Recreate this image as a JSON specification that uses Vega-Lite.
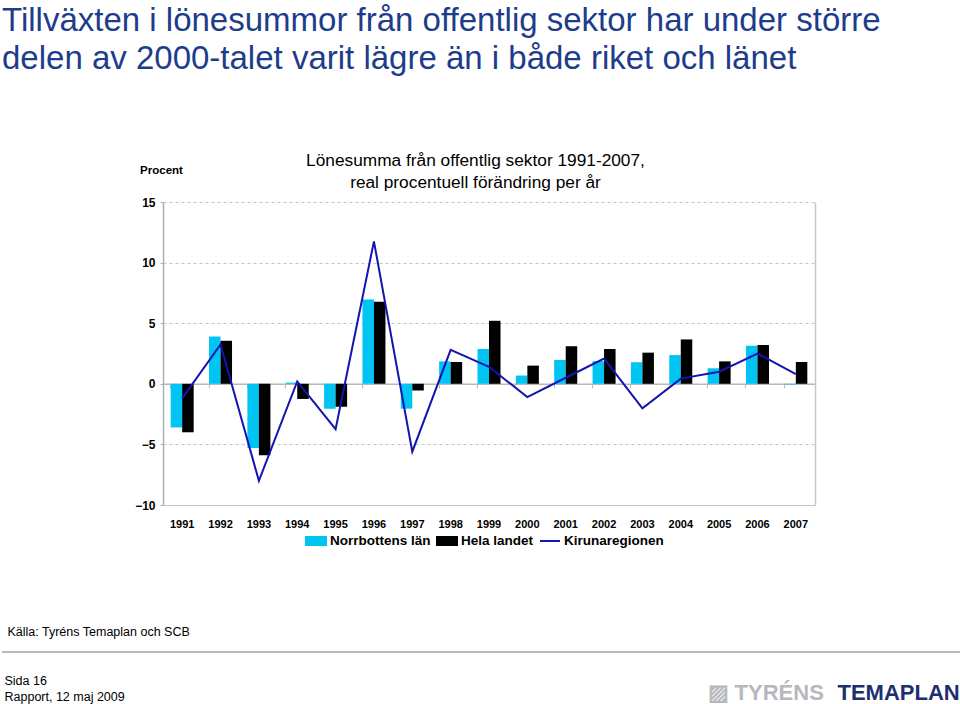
{
  "$schema": "https://vega.github.io/schema/vega-lite/v6.json",
  "width": 652,
  "height": 303,
  "autosize": {"type": "none"},
  "padding": {"left": 163, "top": 202, "right": 145, "bottom": 199},
  "background": "white",
  "config": {"view": {"stroke": null}, "font": "Liberation Sans"},
  "title": {
    "text": ["Tillväxten i lönesummor från offentlig sektor har under större", "delen av 2000-talet varit lägre än i både riket och länet"],
    "subtitle": "────────────────────────────────────────────────────────────────────",
    "anchor": "start",
    "frame": "group",
    "orient": "top",
    "offset": 0,
    "dx": -161,
    "dy": 514,
    "font": "Liberation Sans",
    "fontSize": 33,
    "fontWeight": "normal",
    "color": "#1e3c8c",
    "lineHeight": 38,
    "subtitleFont": "DejaVu Sans Mono",
    "subtitleFontSize": 24,
    "subtitleColor": "#b8b8b8",
    "subtitlePadding": 565
  },
  "data": {
    "values": [
      {"year": 1991, "series": "Norrbottens län", "value": -3.6},
      {"year": 1992, "series": "Norrbottens län", "value": 3.9},
      {"year": 1993, "series": "Norrbottens län", "value": -5.3},
      {"year": 1994, "series": "Norrbottens län", "value": 0.1},
      {"year": 1995, "series": "Norrbottens län", "value": -2.05},
      {"year": 1996, "series": "Norrbottens län", "value": 6.95},
      {"year": 1997, "series": "Norrbottens län", "value": -2.05},
      {"year": 1998, "series": "Norrbottens län", "value": 1.85},
      {"year": 1999, "series": "Norrbottens län", "value": 2.87},
      {"year": 2000, "series": "Norrbottens län", "value": 0.68},
      {"year": 2001, "series": "Norrbottens län", "value": 1.97},
      {"year": 2002, "series": "Norrbottens län", "value": 1.87},
      {"year": 2003, "series": "Norrbottens län", "value": 1.78},
      {"year": 2004, "series": "Norrbottens län", "value": 2.37},
      {"year": 2005, "series": "Norrbottens län", "value": 1.28},
      {"year": 2006, "series": "Norrbottens län", "value": 3.14},
      {"year": 2007, "series": "Norrbottens län", "value": -0.05},
      {"year": 1991, "series": "Hela landet", "value": -4.0},
      {"year": 1992, "series": "Hela landet", "value": 3.55},
      {"year": 1993, "series": "Hela landet", "value": -5.9},
      {"year": 1994, "series": "Hela landet", "value": -1.25},
      {"year": 1995, "series": "Hela landet", "value": -1.9},
      {"year": 1996, "series": "Hela landet", "value": 6.78},
      {"year": 1997, "series": "Hela landet", "value": -0.55},
      {"year": 1998, "series": "Hela landet", "value": 1.8},
      {"year": 1999, "series": "Hela landet", "value": 5.2},
      {"year": 2000, "series": "Hela landet", "value": 1.5},
      {"year": 2001, "series": "Hela landet", "value": 3.1},
      {"year": 2002, "series": "Hela landet", "value": 2.87},
      {"year": 2003, "series": "Hela landet", "value": 2.57},
      {"year": 2004, "series": "Hela landet", "value": 3.66},
      {"year": 2005, "series": "Hela landet", "value": 1.85},
      {"year": 2006, "series": "Hela landet", "value": 3.2},
      {"year": 2007, "series": "Hela landet", "value": 1.8},
      {"year": 1991, "series": "Kirunaregionen", "value": -1.2},
      {"year": 1992, "series": "Kirunaregionen", "value": 3.25},
      {"year": 1993, "series": "Kirunaregionen", "value": -8.0},
      {"year": 1994, "series": "Kirunaregionen", "value": 0.2},
      {"year": 1995, "series": "Kirunaregionen", "value": -3.75},
      {"year": 1996, "series": "Kirunaregionen", "value": 11.75},
      {"year": 1997, "series": "Kirunaregionen", "value": -5.6},
      {"year": 1998, "series": "Kirunaregionen", "value": 2.8},
      {"year": 1999, "series": "Kirunaregionen", "value": 1.4},
      {"year": 2000, "series": "Kirunaregionen", "value": -1.1},
      {"year": 2001, "series": "Kirunaregionen", "value": 0.5},
      {"year": 2002, "series": "Kirunaregionen", "value": 2.08},
      {"year": 2003, "series": "Kirunaregionen", "value": -2.02},
      {"year": 2004, "series": "Kirunaregionen", "value": 0.43},
      {"year": 2005, "series": "Kirunaregionen", "value": 1.0},
      {"year": 2006, "series": "Kirunaregionen", "value": 2.5},
      {"year": 2007, "series": "Kirunaregionen", "value": 0.8}
    ]
  },
  "resolve": {"axis": {"x": "independent", "y": "independent"}},
  "layer": [
    {
      "transform": [{"filter": "datum.series === 'Norrbottens län'"}],
      "mark": {"type": "bar"},
      "encoding": {
        "x": {
          "field": "year", "type": "ordinal",
          "scale": {"paddingInner": 0.4, "paddingOuter": 0.2},
          "axis": {
            "orient": "bottom", "domain": false, "ticks": false, "tickSize": 0, "grid": false,
            "labelAngle": 0, "labelFont": "Liberation Sans", "labelFontSize": 11, "labelFontWeight": "bold",
            "labelColor": "#000000", "labelPadding": 13,
            "title": "Källa: Tyréns Temaplan och SCB",
            "titleX": -156, "titleY": 130, "titleAlign": "left", "titleBaseline": "alphabetic", "titleAngle": 0,
            "titleFont": "Liberation Sans", "titleFontSize": 12.5, "titleFontWeight": "normal", "titleColor": "#000000"
          }
        },
        "xOffset": {"field": "series", "type": "nominal", "scale": {"domain": ["Norrbottens län", "Hela landet"], "paddingInner": 0, "paddingOuter": 0}},
        "y": {
          "field": "value", "type": "quantitative",
          "scale": {"domain": [-10, 15], "nice": false, "zero": false},
          "axis": {
            "orient": "left", "values": [-10, -5, 0, 5, 10, 15],
            "grid": true, "gridColor": "#c4c4c4", "gridWidth": 1,
            "gridDash": {"condition": {"test": "datum.value === -10", "value": []}, "value": [3, 3]},
            "domain": true, "domainColor": "#b0b0b0", "domainWidth": 1.5,
            "ticks": true, "tickSize": 3, "tickColor": "#b0b0b0",
            "labelFont": "Liberation Sans", "labelFontSize": 12, "labelFontWeight": "bold", "labelColor": "#000000", "labelPadding": 5,
            "title": "Procent", "titleAngle": 0, "titleX": -2, "titleY": -28.5, "titleAlign": "center", "titleBaseline": "alphabetic",
            "titleFont": "Liberation Sans", "titleFontSize": 11.5, "titleFontWeight": "bold", "titleColor": "#000000"
          }
        },
        "color": {
          "field": "series", "type": "nominal",
          "scale": {"domain": ["Norrbottens län", "Hela landet", "Kirunaregionen"], "range": ["#00c4f4", "#000000", "#1414b0"]},
          "legend": {
            "orient": "none", "legendX": 142, "legendY": 328, "direction": "horizontal", "title": null,
            "symbolSize": 400, "labelFont": "Liberation Sans", "labelFontSize": 13.5, "labelFontWeight": "bold",
            "labelColor": "#000000", "labelOffset": 3, "columnPadding": 2,
            "encode": {
              "symbols": {
                "update": {
                  "shape": {"signal": "datum.value === 'Kirunaregionen' ? 'M-1,-0.4M1,0.4M-1,0H1' : 'M-1,-0.4H1V0.4H-1Z'"},
                  "fill": {"signal": "datum.value === 'Kirunaregionen' ? 'transparent' : scale('color', datum.value)"},
                  "stroke": {"signal": "datum.value === 'Kirunaregionen' ? scale('color', datum.value) : 'transparent'"},
                  "strokeWidth": {"value": 2},
                  "opacity": {"value": 1},
                  "fillOpacity": {"value": 1}
                }
              }
            }
          }
        }
      }
    },
    {
      "transform": [{"filter": "datum.series === 'Hela landet'"}],
      "mark": {"type": "bar"},
      "encoding": {
        "x": {
          "field": "year", "type": "ordinal",
          "axis": {
            "orient": "bottom", "offset": -121.2, "labels": false, "grid": false,
            "domain": true, "domainColor": "#b8b8b8", "domainWidth": 1.5,
            "ticks": true, "tickSize": 4, "tickColor": "#b8b8b8", "bandPosition": 0,
            "title": ["Sida 16", "Rapport, 12 maj 2009"],
            "titleX": -159, "titleY": 301, "titleAlign": "left", "titleBaseline": "alphabetic", "titleAngle": 0,
            "titleLineHeight": 16,
            "titleFont": "Liberation Sans", "titleFontSize": 12.5, "titleFontWeight": "normal", "titleColor": "#000000"
          }
        },
        "xOffset": {"field": "series", "type": "nominal"},
        "y": {
          "field": "value", "type": "quantitative",
          "axis": {
            "orient": "right", "labels": false, "ticks": false, "grid": false,
            "domain": true, "domainColor": "#c8c8c8", "domainWidth": 1.5,
            "title": "▨  TYRÉNS", "titleAngle": 0, "titleX": -108, "titleY": 497, "titleAlign": "left", "titleBaseline": "alphabetic",
            "titleFont": "Liberation Sans", "titleFontSize": 22, "titleFontWeight": "bold", "titleColor": "#b5b9bd"
          }
        },
        "color": {"field": "series", "type": "nominal"}
      }
    },
    {
      "transform": [{"filter": "datum.series === 'Kirunaregionen'"}],
      "mark": {"type": "line", "strokeWidth": 2},
      "encoding": {
        "x": {
          "field": "year", "type": "ordinal",
          "axis": {
            "orient": "top", "labels": false, "ticks": false, "domain": false, "grid": false,
            "title": ["Lönesumma från offentlig sektor 1991-2007,", "real procentuell förändring per år"],
            "titleX": 312, "titleY": -37, "titleAlign": "center", "titleBaseline": "alphabetic", "titleAngle": 0,
            "titleLineHeight": 22,
            "titleFont": "Liberation Sans", "titleFontSize": 17.3, "titleFontWeight": "normal", "titleColor": "#000000"
          }
        },
        "y": {
          "field": "value", "type": "quantitative",
          "axis": {
            "orient": "right", "labels": false, "ticks": false, "grid": false, "domain": false,
            "title": "TEMAPLAN", "titleAngle": 0, "titleX": 22, "titleY": 497, "titleAlign": "left", "titleBaseline": "alphabetic",
            "titleFont": "Liberation Sans", "titleFontSize": 22, "titleFontWeight": "bold", "titleColor": "#1d2f6f"
          }
        },
        "color": {"field": "series", "type": "nominal"}
      }
    }
  ]
}
